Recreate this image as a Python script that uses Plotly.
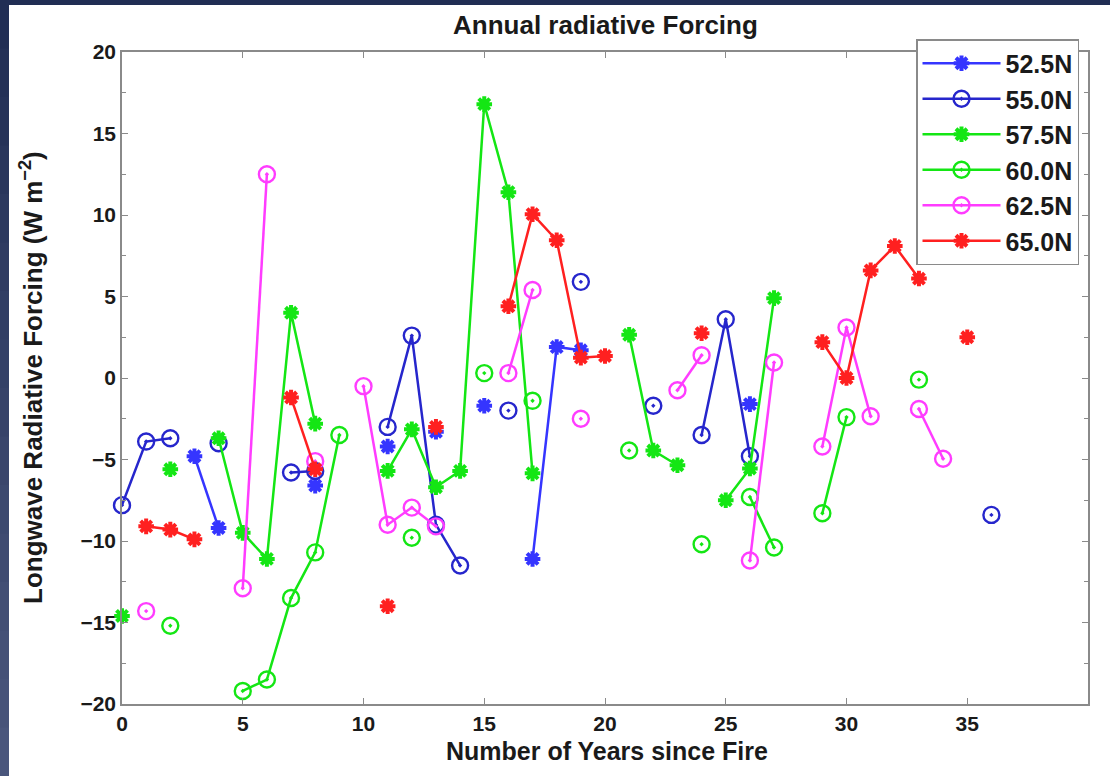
import plotly.graph_objects as go

# ---------------- data ----------------
series_names = ["52.5N", "55.0N", "57.5N", "60.0N", "62.5N", "65.0N"]

lat_525_x = [3, 4, 8, 11, 13, 15, 17, 18, 19, 26]
lat_525_y = [-4.8, -9.2, -6.6, -4.2, -3.3, -1.7, -11.1, 1.9, 1.7, -1.6]

lat_550_x = [0, 1, 2, 4, 7, 8, 11, 12, 13, 14, 16, 19, 22, 24, 25, 26, 36]
lat_550_y = [-7.8, -3.9, -3.7, -4.0, -5.8, -5.7, -3.0, 2.6, -9.0, -11.5, -2.0, 5.9, -1.7, -3.5, 3.6, -4.8, -8.4]

lat_575_x = [0, 2, 4, 5, 6, 7, 8, 11, 12, 13, 14, 15, 16, 17, 21, 22, 23, 25, 26, 27]
lat_575_y = [-14.6, -5.6, -3.7, -9.5, -11.1, 4.0, -2.8, -5.7, -3.15, -6.7, -5.7, 16.8, 11.4, -5.85,
             2.65, -4.45, -5.35, -7.5, -5.55, 4.9]

lat_600_x = [2, 5, 6, 7, 8, 9, 12, 15, 17, 21, 24, 26, 27, 29, 30, 33]
lat_600_y = [-15.2, -19.2, -18.5, -13.5, -10.7, -3.5, -9.8, 0.3, -1.4, -4.45, -10.2, -7.3, -10.4, -8.3, -2.4, -0.1]

lat_625_x = [1, 5, 6, 8, 10, 11, 12, 13, 16, 17, 19, 23, 24, 26, 27, 29, 30, 31, 33, 34]
lat_625_y = [-14.3, -12.9, 12.5, -5.1, -0.5, -9.0, -7.95, -9.1, 0.3, 5.4, -2.5, -0.75, 1.4, -11.2, 0.95,
             -4.2, 3.1, -2.35, -1.9, -4.95]

lat_650_x = [1, 2, 3, 7, 8, 11, 13, 16, 17, 18, 19, 20, 24, 29, 30, 31, 32, 33, 35]
lat_650_y = [-9.1, -9.3, -9.9, -1.2, -5.6, -14.0, -3.0, 4.4, 10.05, 8.45, 1.25, 1.35, 2.75, 2.2, 0.0,
             6.6, 8.1, 6.1, 2.5]

x_ticks = [0, 5, 10, 15, 20, 25, 30, 35]
y_ticks = [-20, -15, -10, -5, 0, 5, 10, 15, 20]

# ---------------- styling ----------------
series_x = [lat_525_x, lat_550_x, lat_575_x, lat_600_x, lat_625_x, lat_650_x]
series_y = [lat_525_y, lat_550_y, lat_575_y, lat_600_y, lat_625_y, lat_650_y]
colors = ["#3535ff", "#2626cc", "#14e614", "#14e614", "#ff3cff", "#ff2020"]
symbols = ["asterisk-open", "circle-open-dot", "asterisk-open", "circle-open-dot",
           "circle-open-dot", "asterisk-open"]
sizes = [13, 16, 13, 16, 16, 13]
mline = [4, 2.4, 4, 2.4, 2.4, 4]

FONT = "Liberation Sans"
TXT = "#1a1a1a"


def with_gaps(xs, ys):
    """Insert None where consecutive years are missing (MATLAB NaN gaps)."""
    gx, gy = [], []
    for i, (x, y) in enumerate(zip(xs, ys)):
        if i > 0 and x - xs[i - 1] > 1:
            gx.append(None)
            gy.append(None)
        gx.append(x)
        gy.append(y)
    return gx, gy


fig = go.Figure()
for name, xs, ys, c, s, sz, lw in zip(series_names, series_x, series_y, colors, symbols, sizes, mline):
    gx, gy = with_gaps(xs, ys)
    fig.add_trace(go.Scatter(
        x=gx, y=gy, name=name, mode="lines+markers", connectgaps=False,
        line=dict(color=c, width=2.5),
        marker=dict(symbol=s, size=sz, color=c, line=dict(color=c, width=lw)),
        cliponaxis=False,
    ))

W, H = 1110, 776
L, R, T, B = 122, 22, 52, 72
pw, ph = W - L - R, H - T - B


def px_x(p):
    return (p - L) / pw


def px_y(p):
    return (H - B - p) / ph


shapes = []
# dark slide border: top strip and left gradient strip
shapes.append(dict(type="rect", xref="paper", yref="paper", x0=px_x(0), x1=px_x(W), y0=px_y(5), y1=px_y(0),
                   fillcolor="#212e54", line=dict(width=0), layer="below"))
nb = 16
c_top = (33, 46, 84)
c_bot = (74, 86, 124)
for i in range(nb):
    f = i / (nb - 1)
    col = tuple(int(round(a + (b - a) * f)) for a, b in zip(c_top, c_bot))
    y_top = H * i / nb
    y_bot = H * (i + 1) / nb + 1
    shapes.append(dict(type="rect", xref="paper", yref="paper", x0=px_x(0), x1=px_x(9),
                       y0=px_y(y_bot), y1=px_y(y_top),
                       fillcolor="rgb(%d,%d,%d)" % col, line=dict(width=0), layer="below"))

axis_common = dict(
    showline=True, linecolor="#8a8a8a", linewidth=1.5, mirror="ticks",
    ticks="inside", ticklen=6, tickwidth=1, tickcolor="#8a8a8a",
    showgrid=False, zeroline=False,
    tickfont=dict(family=FONT, size=21, color=TXT, weight="bold"),
)

fig.update_layout(
    width=W, height=H,
    margin=dict(l=L, r=R, t=T, b=B),
    paper_bgcolor="white", plot_bgcolor="white",
    shapes=shapes,
    showlegend=True,
    xaxis=dict(range=[0, 40], tickvals=x_ticks, **axis_common),
    yaxis=dict(range=[-20, 20], tickvals=y_ticks,
               minor=dict(dtick=2.5, ticks="inside", ticklen=4, tickcolor="#8a8a8a"),
               **axis_common),
    legend=dict(
        x=px_x(916), y=px_y(39), xanchor="left", yanchor="top",
        bgcolor="white", bordercolor="#8a8a8a", borderwidth=1.5,
        font=dict(family=FONT, size=25, color=TXT, weight="bold"),
        itemwidth=78, tracegroupgap=0,
    ),
    annotations=[
        dict(text="Annual radiative Forcing", xref="paper", yref="paper",
             x=px_x(605), y=px_y(25), xanchor="center", yanchor="middle", showarrow=False,
             font=dict(family=FONT, size=26, color=TXT, weight="bold")),
        dict(text="Number of Years since Fire", xref="paper", yref="paper",
             x=px_x(607), y=px_y(751), xanchor="center", yanchor="middle", showarrow=False,
             font=dict(family=FONT, size=25, color=TXT, weight="bold")),
        dict(text="Longwave Radiative Forcing (W m<sup>\u22122</sup>)", xref="paper", yref="paper",
             x=px_x(31), y=px_y(378), xanchor="center", yanchor="middle", showarrow=False,
             textangle=-90,
             font=dict(family=FONT, size=26, color=TXT, weight="bold")),
    ],
)

fig.write_html("out.html")
